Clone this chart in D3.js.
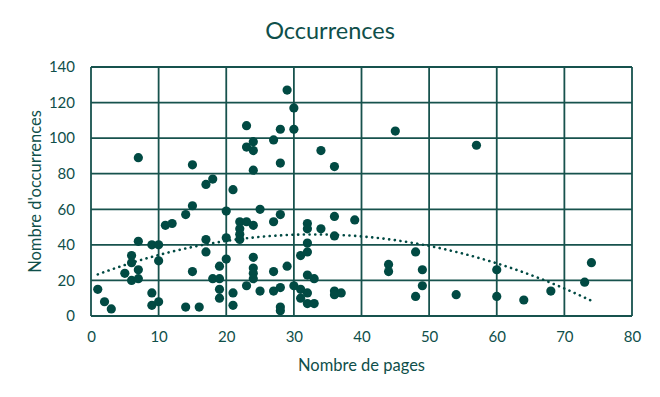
<!DOCTYPE html>
<html>
<head>
<meta charset="utf-8">
<script src="https://cdn.jsdelivr.net/npm/d3@7"></script>
<style>
  body { margin: 0; background: #fff; }
  text { font-family: Lato, "Open Sans", sans-serif; fill: #0f4f4a; }
</style>
</head>
<body>
<div id="chart"></div>
<script>
// nombre de pages / nombre d'occurrences
var pages = [1, 2, 3, 5, 6, 6, 6, 7, 7, 7, 7, 9, 10, 10, 9, 9, 10, 11, 12, 14,
  15, 15, 15, 14, 16, 17, 18, 17, 17, 18, 19, 19, 19, 19, 20, 20, 20, 21, 21, 21,
  22, 23, 24, 22, 22, 22, 23, 23, 24, 24, 24, 23, 24, 24, 24, 24, 25, 25, 27, 27,
  27, 27, 28, 28, 28, 28, 28, 28, 29, 29, 30, 30, 30, 31, 31, 31, 32, 32, 32, 32,
  32, 32, 32, 33, 33, 34, 34, 36, 36, 36, 36, 36, 37, 39, 44, 44, 45, 48, 49, 49,
  48, 54, 57, 60, 60, 64, 68, 73, 74];
var occurrences = [15, 8, 4, 24, 34, 30, 20, 89, 42, 26, 21, 40, 40, 31, 13, 6, 8, 51, 52, 57,
  62, 85, 25, 5, 5, 74, 77, 43, 36, 21, 21, 28, 15, 10, 59, 44, 32, 71, 13, 6,
  53, 53, 51, 49, 46, 43, 107, 95, 98, 93, 82, 17, 33, 27, 24, 21, 60, 14, 99, 53,
  25, 14, 105, 86, 57, 16, 5, 3, 127, 28, 117, 105, 17, 15, 10, 34, 52, 49, 41, 36,
  23, 13, 7, 21, 7, 93, 49, 84, 56, 45, 14, 12, 13, 54, 29, 25, 104, 36, 26, 17,
  11, 12, 96, 26, 11, 9, 14, 19, 30];

var xTicks = [0, 10, 20, 30, 40, 50, 60, 70, 80];
var yTicks = [0, 20, 40, 60, 80, 100, 120, 140];

var width = 660;
var height = 397;
var margin = {top: 67, right: 28, bottom: 81, left: 91};
var ink = "#0f4f4a";
var dotColor = "#014a43";

var svg = d3.select("#chart").
append("svg").
attr("width", width).
attr("height", height);

var x = d3.scaleLinear().domain([0, 80]).range([margin.left, width - margin.right]);
var y = d3.scaleLinear().domain([0, 140]).range([height - margin.bottom, margin.top]);

// grille
svg.append("g").
selectAll("line").
data(xTicks).
enter().
append("line").
attr("x1", function (d) {return x(d);}).
attr("x2", function (d) {return x(d);}).
attr("y1", y(0)).
attr("y2", y(140)).
attr("stroke", "#17524d").
attr("stroke-width", 1.8);

svg.append("g").
selectAll("line").
data(yTicks).
enter().
append("line").
attr("x1", x(0)).
attr("x2", x(80)).
attr("y1", function (d) {return y(d);}).
attr("y2", function (d) {return y(d);}).
attr("stroke", "#17524d").
attr("stroke-width", 1.8);

// axes (texte seulement)
var xAxis = svg.append("g").
attr("transform", "translate(0," + y(0) + ")").
call(d3.axisBottom(x).tickValues(xTicks).tickSize(0).tickPadding(15));
var yAxis = svg.append("g").
attr("transform", "translate(" + x(0) + ",0)").
call(d3.axisLeft(y).tickValues(yTicks).tickSize(0).tickPadding(16));
[xAxis, yAxis].forEach(function (a) {
    a.select(".domain").remove();
    a.selectAll("text").
    style("font-family", "Lato, 'Open Sans', sans-serif").
    style("font-size", "15px").
    attr("fill", ink);
});

// courbe de tendance polynomiale (ordre 2), moindres carrés
function fitQuad(xs, ys) {
    var s = [0, 0, 0, 0, 0], t = [0, 0, 0];
    for (var i = 0; i < xs.length; i++) {
        var p = 1;
        for (var k = 0; k < 5; k++) {s[k] += p;if (k < 3) t[k] += p * ys[i];p *= xs[i];}
    }
    var m = [[s[0], s[1], s[2], t[0]], [s[1], s[2], s[3], t[1]], [s[2], s[3], s[4], t[2]]];
    for (var c = 0; c < 3; c++) {
        for (var r = c + 1; r < 3; r++) {
            var f = m[r][c] / m[c][c];
            for (var j = c; j < 4; j++) m[r][j] -= f * m[c][j];
        }
    }
    var b = [0, 0, 0];
    for (var r2 = 2; r2 >= 0; r2--) {
        var v = m[r2][3];
        for (var j2 = r2 + 1; j2 < 3; j2++) v -= m[r2][j2] * b[j2];
        b[r2] = v / m[r2][r2];
    }
    return b;
}
var coef = fitQuad(pages, occurrences);
var trendX = d3.range(d3.min(pages), d3.max(pages) + 0.01, 0.5);
var line = d3.line().
x(function (d) {return x(d);}).
y(function (d) {return y(coef[0] + coef[1] * d + coef[2] * d * d);});

svg.append("path").
datum(trendX).
attr("d", line).
attr("fill", "none").
attr("stroke", dotColor).
attr("stroke-width", 2.6).
attr("stroke-linecap", "round").
attr("stroke-dasharray", "0.1,5.6");

// points
svg.append("g").
selectAll("circle").
data(pages).
enter().
append("circle").
attr("cx", function (d) {return x(d);}).
attr("cy", function (d, i) {return y(occurrences[i]);}).
attr("r", 4.6).
attr("fill", dotColor);

// titres
svg.append("text").
attr("x", 330).
attr("y", 39).
attr("text-anchor", "middle").
style("font-size", "23.5px").
text("Occurrences");

svg.append("text").
attr("x", (x(0) + x(80)) / 2).
attr("y", 371).
attr("text-anchor", "middle").
style("font-size", "16.5px").
text("Nombre de pages");

svg.append("text").
attr("transform", "translate(41," + (y(0) + y(140)) / 2 + ") rotate(-90)").
attr("text-anchor", "middle").
style("font-size", "16.5px").
text("Nombre d'occurrences");
</script>
</body>
</html>
